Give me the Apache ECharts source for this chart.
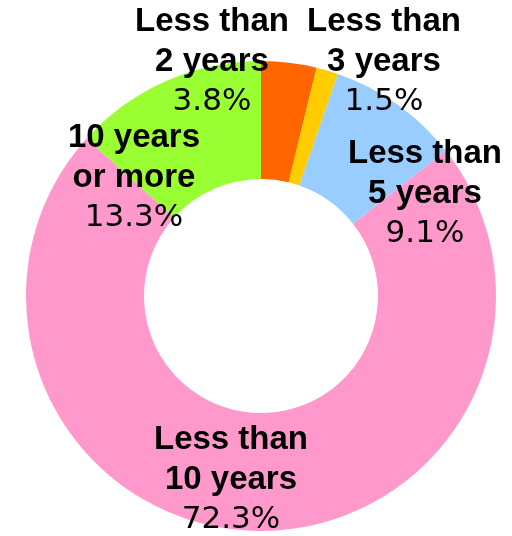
<!DOCTYPE html>
<html>
<head>
<meta charset="utf-8">
<style>
  html, body { margin: 0; padding: 0; background: #ffffff; }
  #chart { width: 512px; height: 536px; }
</style>
<script src="https://cdn.jsdelivr.net/npm/echarts@6/dist/echarts.min.js"></script>
</head>
<body>
<div id="chart"></div>
<script>
// Duration groups, clockwise from 12 o'clock
const categories = [
  'Less than\n2 years',
  'Less than\n3 years',
  'Less than\n5 years',
  'Less than\n10 years',
  '10 years\nor more'
];
// Share of each group, in percent
const shares = [3.8, 1.5, 9.1, 72.3, 13.3];

// Slice fill colours
const sliceColors = ['#FF6600', '#FFCC00', '#99CCFF', '#FF99CC', '#99FF33'];
// Label block centres in pixels
const labelCenters = [[212, 62], [384, 62], [425, 194], [231, 480], [134, 178]];

const chart = echarts.init(document.getElementById('chart'), null, { renderer: 'canvas' });

const pieData = categories.map((name, i) => ({
  name: name,
  value: shares[i],
  itemStyle: { color: sliceColors[i] }
}));

chart.setOption({
  animation: false,
  backgroundColor: '#ffffff',
  series: [{
    type: 'pie',
    center: [261, 296],
    radius: [117, 235],
    startAngle: 90,
    clockwise: true,
    avoidLabelOverlap: false,
    itemStyle: { borderWidth: 0 },
    label: {
      show: true,
      position: 'outside',
      formatter: (p) => {
        const lines = p.name.split('\n').map(s => '{n|' + s + '}');
        return lines.join('\n') + '\n{p|' + p.value.toFixed(1) + '%}';
      },
      rich: {
        n: {
          fontFamily: '"Liberation Sans", Arial, sans-serif',
          fontWeight: 'bold',
          fontSize: 33,
          lineHeight: 40,
          color: '#000000',
          align: 'center'
        },
        p: {
          fontFamily: '"DejaVu Sans", sans-serif',
          fontWeight: 'normal',
          fontSize: 31,
          lineHeight: 40,
          color: '#000000',
          align: 'center'
        }
      }
    },
    labelLine: { show: false },
    labelLayout: (params) => {
      const c = labelCenters[params.dataIndex];
      return { x: c[0], y: c[1], align: 'center', verticalAlign: 'middle' };
    },
    data: pieData
  }]
});
</script>
</body>
</html>
